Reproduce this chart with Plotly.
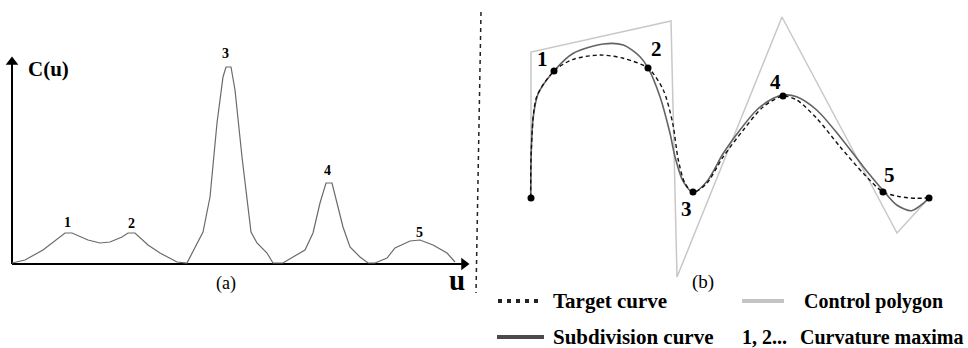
import plotly.graph_objects as go

# ---- Panel (a): curvature function C(u) (image-pixel units) ----
cu_u = [12, 25, 43, 65, 72, 88, 100, 110, 122, 128, 135, 148, 160, 177, 187, 195, 203, 210,
        217, 223, 226, 231, 235, 242, 251, 257, 267, 273, 283, 293, 305, 313, 320, 326, 332,
        337, 343, 350, 360, 368, 375, 387, 395, 410, 420, 433, 447, 455]
cu_v = [263, 260, 250, 233, 233, 240, 243, 242, 237, 233, 233, 245, 253, 262, 263, 247, 232, 197,
        123, 77, 67, 67, 90, 157, 232, 243, 253, 263, 263, 257, 250, 233, 203, 183, 183,
        203, 227, 247, 257, 263, 263, 258, 248, 241, 240, 245, 253, 262]
peak_labels = ["1", "2", "3", "4", "5"]
peak_lx = [67, 131, 225, 327, 419]
peak_ly = [222, 223, 53, 170, 232]

# ---- Panel (b): curves ----
poly_x = [531, 531, 671, 677, 782, 897, 929]
poly_y = [198, 52, 21, 277, 17, 233, 198]

sub_x = [530.7, 531.3, 533.3, 538.3, 554.3, 573.3, 603.3, 623.3, 640, 648.3, 660, 670, 675, 683.3,
         693.3, 706.7, 723.3, 740, 756.7, 773.3, 783.3, 796.7, 816.7, 840, 863.3, 882.7, 896.7,
         911.7, 923.3, 929]
sub_y = [197.7, 150, 116.7, 93.3, 70.7, 53.3, 44, 45, 56.7, 68.3, 96.7, 133.3, 156.7, 181.7,
         192.3, 181.7, 153.3, 130, 110, 98.3, 95, 96.7, 110, 136.7, 166.7, 190, 205,
         210.7, 203.3, 197.7]

tgt_x = [530.7, 531.3, 536.7, 554.3, 573.3, 600, 623.3, 648.3, 663.3, 672.7, 678.3, 685, 693.3,
         706.7, 723.3, 743.3, 763.3, 783.3, 796.7, 816.7, 840, 863.3, 882.7, 900, 916.7, 929]
tgt_y = [197.7, 150, 96.7, 70.7, 59.3, 55, 58.3, 68.3, 90, 123.3, 160, 183.3, 192.3,
         183.3, 156.7, 130, 106.7, 96, 100, 118.3, 146.7, 173.3, 191.7, 196.7, 198.3, 197.7]

dot_x = [531, 554, 648, 693, 783, 883, 929]
dot_y = [198, 71, 68, 192, 96, 192, 198]
max_labels = ["1", "2", "3", "4", "5"]
max_lx = [542, 656, 686, 775, 889]
max_ly = [59, 49, 209, 82, 175]

SERIF = "Liberation Serif, Times New Roman, serif"

fig = go.Figure()

# axes of panel (a)
fig.add_trace(go.Scatter(x=[12, 12], y=[264, 64], mode="lines",
                         line=dict(color="black", width=2), hoverinfo="skip"))
fig.add_trace(go.Scatter(x=[12, 462], y=[264, 264], mode="lines",
                         line=dict(color="black", width=2), hoverinfo="skip"))
fig.add_trace(go.Scatter(x=[12], y=[62], mode="markers",
                         marker=dict(symbol="triangle-up", size=11, color="black"), hoverinfo="skip"))
fig.add_trace(go.Scatter(x=[464], y=[264], mode="markers",
                         marker=dict(symbol="triangle-right", size=11, color="black"), hoverinfo="skip"))

# C(u) curve
fig.add_trace(go.Scatter(x=cu_u, y=cu_v, mode="lines",
                         line=dict(color="#6a6a6a", width=1.2), hoverinfo="skip"))

# divider
fig.add_trace(go.Scatter(x=[481, 476], y=[12, 293], mode="lines",
                         line=dict(color="#222222", width=1.5, dash="4px,4px"), hoverinfo="skip"))

# panel (b)
fig.add_trace(go.Scatter(x=poly_x, y=poly_y, mode="lines",
                         line=dict(color="#c8c8c8", width=1.5), hoverinfo="skip"))
fig.add_trace(go.Scatter(x=sub_x, y=sub_y, mode="lines",
                         line=dict(color="#636363", width=1.6, shape="spline", smoothing=0.8),
                         hoverinfo="skip"))
fig.add_trace(go.Scatter(x=tgt_x, y=tgt_y, mode="lines",
                         line=dict(color="#111111", width=1.4, dash="4px,3px", shape="spline",
                                   smoothing=0.8), hoverinfo="skip"))
fig.add_trace(go.Scatter(x=dot_x, y=dot_y, mode="markers",
                         marker=dict(color="black", size=7), hoverinfo="skip"))

# legend samples
fig.add_trace(go.Scatter(x=[498, 542], y=[301, 301], mode="lines",
                         line=dict(color="#222222", width=4, dash="4px,5px"), hoverinfo="skip"))
fig.add_trace(go.Scatter(x=[497, 544], y=[337, 337], mode="lines",
                         line=dict(color="#4a4a4a", width=4), hoverinfo="skip"))
fig.add_trace(go.Scatter(x=[742, 784], y=[301, 301], mode="lines",
                         line=dict(color="#c4c4c4", width=4), hoverinfo="skip"))

ann = []
def txt(x, y, s, size, bold=True, xanchor="center"):
    ann.append(dict(x=x, y=y, xref="x", yref="y", text=f"<b>{s}</b>" if bold else s,
                    showarrow=False, xanchor=xanchor, yanchor="middle",
                    font=dict(family=SERIF, size=size, color="black")))

txt(26, 69, "C(u)", 21, xanchor="left")
txt(457, 280, "u", 29)
txt(226, 283, "(a)", 18, bold=False)
for s, x, y in zip(peak_labels, peak_lx, peak_ly):
    txt(x, y, s, 14)
for s, x, y in zip(max_labels, max_lx, max_ly):
    txt(x, y, s, 21)
txt(703, 282, "(b)", 19, bold=False)
txt(551, 301, "Target curve", 21, xanchor="left")
txt(551, 337, "Subdivision curve", 21, xanchor="left")
txt(802, 301, "Control polygon", 20, xanchor="left")
txt(740, 337, "1, 2...", 20, xanchor="left")
txt(966, 337, "Curvature maxima", 20, xanchor="right")

fig.update_layout(
    width=968, height=348, margin=dict(l=0, r=0, t=0, b=0),
    paper_bgcolor="white", plot_bgcolor="white", showlegend=False,
    xaxis=dict(range=[0, 968], visible=False, fixedrange=True),
    yaxis=dict(range=[348, 0], visible=False, fixedrange=True),
    annotations=ann,
)
fig.write_html("out.html", config={"displayModeBar": False},
               post_script="document.body.style.margin='0';document.body.style.overflow='hidden';")
